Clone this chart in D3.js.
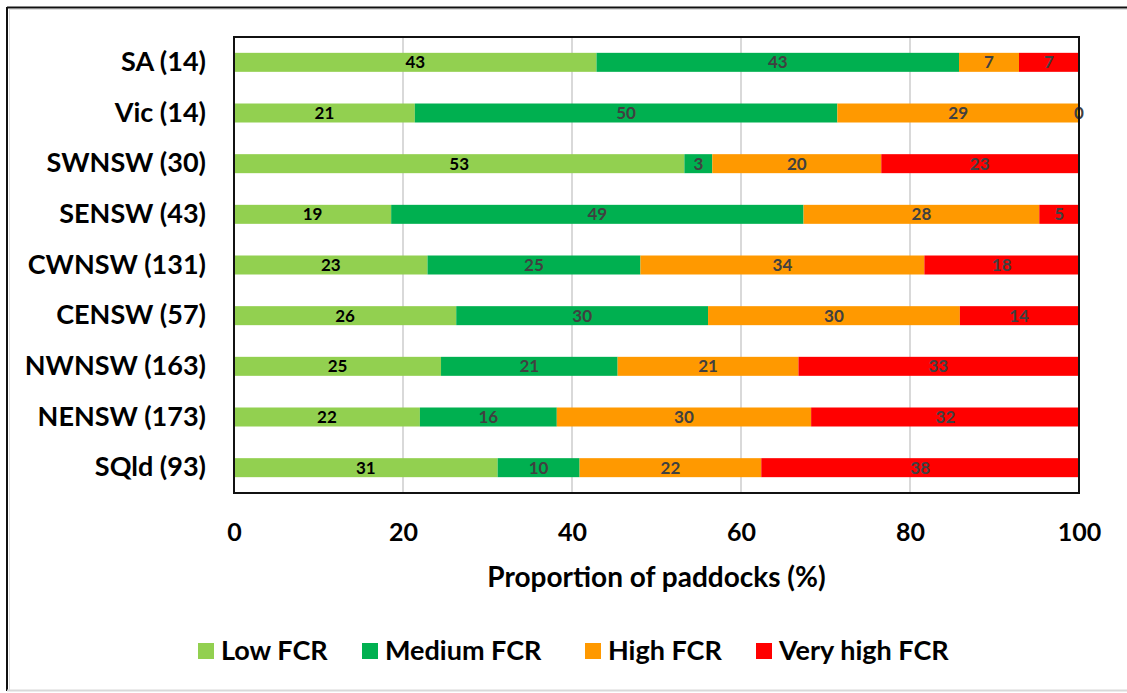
<!DOCTYPE html>
<html>
<head>
<meta charset="utf-8">
<script src="https://cdn.jsdelivr.net/npm/d3@7"></script>
<style>
  html, body { margin: 0; padding: 0; background: #fff; }
  svg { display: block; }
  text { font-family: Lato, "Open Sans", sans-serif; font-weight: bold; }
</style>
</head>
<body>
<svg id="chart" width="1127" height="693"></svg>
<script>
// ---- data ----
const categories = ["SA (14)", "Vic (14)", "SWNSW (30)", "SENSW (43)", "CWNSW (131)",
                    "CENSW (57)", "NWNSW (163)", "NENSW (173)", "SQld (93)"];
const seriesNames = ["Low FCR", "Medium FCR", "High FCR", "Very high FCR"];
const lowFCR      = [42.9, 21.4, 53.3, 18.6, 22.9, 26.3, 24.5, 22.0, 31.2];
const mediumFCR   = [42.9, 50.0,  3.3, 48.8, 25.2, 29.8, 20.9, 16.2,  9.7];
const highFCR     = [ 7.1, 28.6, 20.0, 27.9, 33.6, 29.8, 21.4, 30.1, 21.5];
const veryHighFCR = [ 7.1,  0.0, 23.3,  4.7, 18.3, 14.0, 33.1, 31.8, 37.6];
const xTicks = [0, 20, 40, 60, 80, 100];
const xTitle = "Proportion of paddocks (%)";

const colors = ["#92D050", "#00B050", "#FF9900", "#FF0000"];
const labelColors = ["#000000", "#404040", "#404040", "#404040"];

const rows = categories.map((c, i) => ({
  cat: c,
  "Low FCR": lowFCR[i], "Medium FCR": mediumFCR[i],
  "High FCR": highFCR[i], "Very high FCR": veryHighFCR[i]
}));

const svg = d3.select("#chart");
const W = 1127, H = 693;

// outer frame
svg.append("line").attr("x1", 7).attr("x2", W).attr("y1", 7.5).attr("y2", 7.5)
  .attr("stroke", "#111").attr("stroke-width", 2);
svg.append("line").attr("x1", 7).attr("x2", 7).attr("y1", 7).attr("y2", 691)
  .attr("stroke", "#111").attr("stroke-width", 2);
svg.append("line").attr("x1", 9).attr("x2", W).attr("y1", 9.5).attr("y2", 9.5)
  .attr("stroke", "#ddd").attr("stroke-width", 1);
svg.append("line").attr("x1", 9.5).attr("x2", 9.5).attr("y1", 9).attr("y2", 690)
  .attr("stroke", "#ddd").attr("stroke-width", 1);
svg.append("line").attr("x1", 7).attr("x2", W).attr("y1", 690.5).attr("y2", 690.5)
  .attr("stroke", "#d9d9d9").attr("stroke-width", 2);

const plot = { left: 234, right: 1079, top: 37, bottom: 493 };

const x = d3.scaleLinear().domain([0, 100]).range([plot.left, plot.right]);
const y = d3.scaleBand().domain(categories).range([plot.top, plot.bottom])
  .paddingInner(0.625).paddingOuter(0.3125);

// gridlines
svg.append("g").selectAll("line").data(xTicks.filter(t => t > 0 && t < 100)).join("line")
  .attr("x1", d => x(d)).attr("x2", d => x(d))
  .attr("y1", plot.top).attr("y2", plot.bottom)
  .attr("stroke", "#d9d9d9").attr("stroke-width", 2);

// stacked bars
const stack = d3.stack().keys(seriesNames);
const stacked = stack(rows);

const layers = svg.append("g").selectAll("g").data(stacked).join("g")
  .attr("fill", (d, i) => colors[i]);
layers.selectAll("rect").data(d => d).join("rect")
  .attr("x", d => x(d[0]))
  .attr("width", d => x(d[1]) - x(d[0]))
  .attr("y", d => y(d.data.cat))
  .attr("height", y.bandwidth());

// data labels
const lbl = svg.append("g").selectAll("g").data(stacked).join("g")
  .attr("fill", (d, i) => labelColors[i]);
lbl.selectAll("text").data(d => d).join("text")
  .attr("x", d => (x(d[0]) + x(d[1])) / 2)
  .attr("y", d => y(d.data.cat) + y.bandwidth() / 2)
  .attr("dy", "0.36em")
  .attr("text-anchor", "middle")
  .attr("font-size", 17)
  .text(d => Math.round(d[1] - d[0]));

// plot border
svg.append("rect").attr("x", plot.left).attr("y", plot.top)
  .attr("width", plot.right - plot.left).attr("height", plot.bottom - plot.top)
  .attr("fill", "none").attr("stroke", "#111").attr("stroke-width", 2);

// x axis tick labels
const xAxis = d3.axisBottom(x).tickValues(xTicks).tickSize(0).tickPadding(0);
const gx = svg.append("g").attr("transform", `translate(0,${plot.bottom})`).call(xAxis);
gx.select(".domain").remove();
gx.selectAll("text").attr("font-size", 25).attr("fill", "#000")
  .attr("font-family", "Lato").attr("font-weight", "bold")
  .attr("y", 48).attr("dy", 0);

// y axis labels
const yAxis = d3.axisLeft(y).tickSize(0).tickPadding(28);
const gy = svg.append("g").attr("transform", `translate(${plot.left},0)`).call(yAxis);
gy.select(".domain").remove();
gy.selectAll("text").attr("font-size", 27).attr("fill", "#000")
  .attr("font-family", "Lato").attr("font-weight", "bold");

// axis title
svg.append("text").attr("x", (plot.left + plot.right) / 2).attr("y", 587)
  .attr("text-anchor", "middle").attr("font-size", 28).attr("fill", "#000")
  .text(xTitle);

// legend
const legendX = [198, 362, 585, 756];
const lg = svg.append("g").selectAll("g").data(seriesNames).join("g")
  .attr("transform", (d, i) => `translate(${legendX[i]},643)`);
lg.append("rect").attr("width", 16).attr("height", 16).attr("fill", (d, i) => colors[i]);
lg.append("text").attr("x", 23).attr("y", 16.5).attr("font-size", 27).attr("fill", "#000")
  .text(d => d);
</script>
</body>
</html>
